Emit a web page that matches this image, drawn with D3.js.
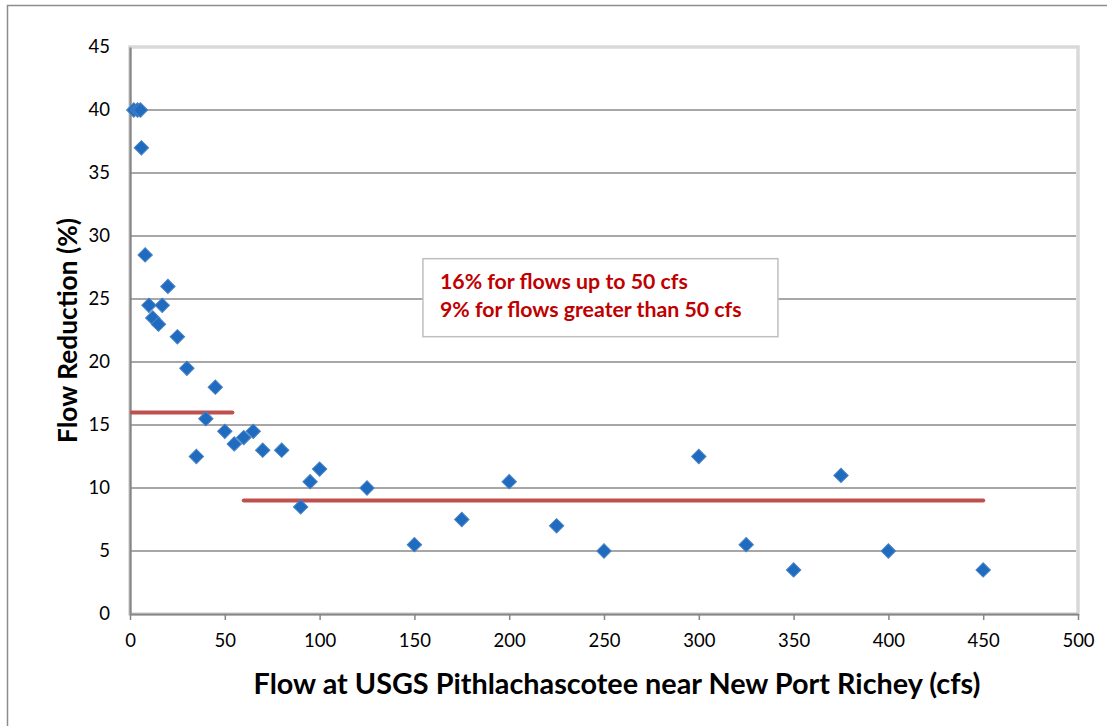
<!DOCTYPE html>
<html>
<head>
<meta charset="utf-8">
<script src="https://cdn.jsdelivr.net/npm/d3@7"></script>
<style>
  html, body { margin: 0; padding: 0; background: #fff; }
  svg { display: block; }
  text { font-family: Lato, "Open Sans", sans-serif; }
</style>
</head>
<body>
<svg id="chart" width="1107" height="726"></svg>
<script>
// ---- data ----
const flow = [2, 4, 5.5, 6, 8, 10, 12, 15, 17, 20, 25, 30, 35, 40, 45, 50, 55, 60, 65, 70, 80, 90, 95, 100, 125, 150, 175, 200, 225, 250, 300, 325, 350, 375, 400, 450];
const reduction = [40, 40, 40, 37, 28.5, 24.5, 23.5, 23, 24.5, 26, 22, 19.5, 12.5, 15.5, 18, 14.5, 13.5, 14, 14.5, 13, 13, 8.5, 10.5, 11.5, 10, 5.5, 7.5, 10.5, 7, 5, 12.5, 5.5, 3.5, 11, 5, 3.5];
const refStart = [1, 60];
const refEnd = [54, 450];
const refValue = [16, 9];
const xTicks = [0, 50, 100, 150, 200, 250, 300, 350, 400, 450, 500];
const yTicks = [0, 5, 10, 15, 20, 25, 30, 35, 40, 45];
const annotationLines = ["16% for flows up to 50 cfs", "9% for flows greater than 50 cfs"];
const xTitle = "Flow at USGS Pithlachascotee near New Port Richey (cfs)";
const yTitle = "Flow Reduction (%)";

// ---- layout ----
const svg = d3.select("#chart");
const L = 130, R = 1078, T = 47, B = 614;

const x = d3.scaleLinear().domain([0, 500]).range([L, R]);
const y = d3.scaleLinear().domain([0, 45]).range([B, T]);

// outer chart border
svg.append("rect")
  .attr("x", 7.5).attr("y", 5.5)
  .attr("width", 1120).attr("height", 740)
  .attr("fill", "none").attr("stroke", "#8c8c8c").attr("stroke-width", 1.5);

// plot area border (light)
svg.append("rect")
  .attr("x", L).attr("y", T).attr("width", R - L).attr("height", B - T)
  .attr("fill", "none").attr("stroke", "#d9d9d9").attr("stroke-width", 3.5);

// gridlines
svg.append("g")
  .selectAll("line")
  .data(yTicks.filter(d => d > 0 && d < 45))
  .join("line")
  .attr("x1", L).attr("x2", R - 2)
  .attr("y1", d => y(d)).attr("y2", d => y(d))
  .attr("stroke", "#8a8a8a").attr("stroke-width", 1.5);

// y axis
const yAxis = svg.append("g")
  .attr("transform", `translate(${L},0)`)
  .call(d3.axisLeft(y).tickValues(yTicks).tickSize(0).tickPadding(20).tickFormat(d3.format("d")));
yAxis.select(".domain").attr("stroke", "#868686").attr("stroke-width", 2.2);
yAxis.selectAll("text").attr("font-size", 18.5).attr("fill", "#000")
  .style("font-family", "Lato, sans-serif");

// x axis
const xAxis = svg.append("g")
  .attr("transform", `translate(0,${B})`)
  .call(d3.axisBottom(x).tickValues(xTicks).tickSizeOuter(0).tickSizeInner(6).tickPadding(14).tickFormat(d3.format("d")));
xAxis.select(".domain").attr("stroke", "#868686").attr("stroke-width", 2.2);
xAxis.selectAll(".tick line").attr("stroke", "#868686").attr("stroke-width", 1.5);
xAxis.selectAll("text").attr("font-size", 18.5).attr("fill", "#000")
  .style("font-family", "Lato, sans-serif");

// reference lines
svg.append("g")
  .selectAll("line")
  .data(refValue.map((v, i) => ({ v, a: refStart[i], b: refEnd[i] })))
  .join("line")
  .attr("x1", d => x(d.a)).attr("x2", d => x(d.b))
  .attr("y1", d => y(d.v)).attr("y2", d => y(d.v))
  .attr("stroke", "#C0504D").attr("stroke-width", 4).attr("stroke-linecap", "round");

// points (diamonds)
const diamond = d3.symbol().type(d3.symbolSquare).size(104);
svg.append("g")
  .selectAll("path")
  .data(flow.map((f, i) => ({ f, r: reduction[i] })))
  .join("path")
  .attr("d", diamond)
  .attr("transform", d => `translate(${x(d.f)},${y(d.r)}) rotate(45)`)
  .attr("fill", "#1F6BBF")
  .attr("stroke", "#4A82C4")
  .attr("stroke-width", 1);

// annotation box
const bx = x(154.5), by = y(28.2), bw = 355, bh = 78;
svg.append("rect")
  .attr("x", bx).attr("y", by).attr("width", bw).attr("height", bh)
  .attr("fill", "#fff").attr("stroke", "#bfbfbf").attr("stroke-width", 1.5);
svg.append("g")
  .selectAll("text")
  .data(annotationLines)
  .join("text")
  .attr("x", bx + 17)
  .attr("y", (d, i) => by + 30 + i * 28)
  .attr("font-size", 21.3).attr("font-weight", "bold").attr("fill", "#C00000")
  .text(d => d);

// axis titles
svg.append("text")
  .attr("x", 617).attr("y", 694)
  .attr("text-anchor", "middle")
  .attr("font-size", 28.8).attr("font-weight", "bold").attr("fill", "#000")
  .text(xTitle);

svg.append("text")
  .attr("transform", `translate(77,${(T + B) / 2}) rotate(-90)`)
  .attr("text-anchor", "middle")
  .attr("font-size", 26.3).attr("font-weight", "bold").attr("fill", "#000")
  .text(yTitle);
</script>
</body>
</html>
